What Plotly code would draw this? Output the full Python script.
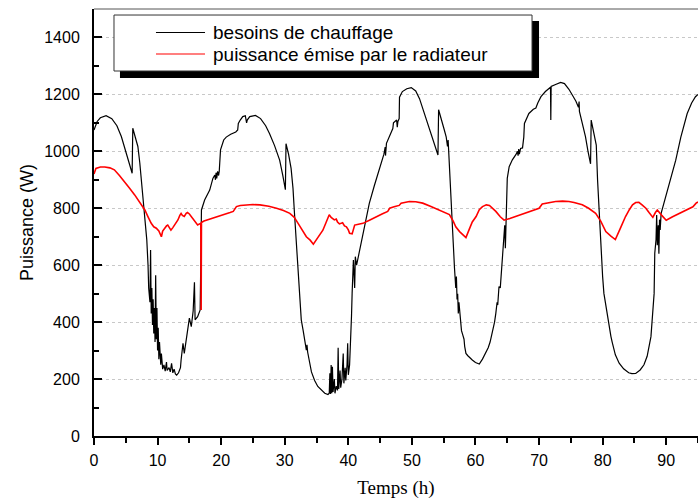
import plotly.graph_objects as go

# Heating demand (besoins de chauffage): time in hours, power in W
besoins_t = [
    0, 0.5, 1.0, 1.9, 2.8, 3.6, 4.3, 5.0, 5.6, 6.0, 6.1, 6.5, 6.9, 7.2, 7.4, 7.7, 7.85, 8.1,
    8.3, 8.5, 8.6, 8.8, 8.9, 9.0, 9.1, 9.2, 9.3, 9.4, 9.5, 9.6, 9.7, 9.8, 9.9, 10.0, 10.1, 10.2,
    10.3, 10.5, 10.6, 10.8, 11.0, 11.2, 11.4, 11.5, 11.8, 12.0, 12.2, 12.4, 12.6, 12.8, 13.0,
    13.3, 13.6, 13.7, 14.0, 14.2, 14.7, 15.0, 15.3, 15.6, 15.8, 15.9, 16.3, 16.7, 16.9, 17.4,
    18.2, 18.7, 19.0, 19.1, 19.2, 19.3, 19.45, 19.6, 19.7, 19.9, 20.4, 20.8, 21.5, 22.3, 22.6,
    22.7, 23.0, 23.4, 23.8, 24.0, 24.1, 24.5, 25.4, 26.2, 27.0, 27.6, 28.4, 29.2, 29.7, 30.1,
    30.2, 30.6, 31.0, 31.3, 31.5, 31.8, 32.1, 32.4, 32.6, 32.9, 33.2, 33.4, 33.5, 33.6, 34.2,
    34.7, 35.2, 35.8, 36.3, 36.8, 37.0, 37.1, 37.2, 37.3, 37.4, 37.5, 37.6, 37.8, 37.9, 38.1,
    38.3, 38.4, 38.5, 38.7, 38.8, 39.0, 39.2, 39.3, 39.5, 39.6, 39.8, 39.9, 40.0, 40.2, 40.35,
    40.5, 40.6, 40.8, 41.0, 41.1, 41.3, 41.8, 42.5, 43.3, 44.1, 44.9, 45.6, 45.8, 45.85, 46.0,
    46.5, 47.0, 47.1, 47.4, 47.6, 47.7, 47.8, 48.0, 48.05, 48.5, 49.2, 49.9, 50.6, 51.2, 51.7,
    52.5, 53.3, 53.8, 54.1, 54.2, 54.7, 55.1, 55.4, 55.6, 55.7, 55.8, 56.0, 56.2, 56.5, 56.7,
    56.9, 57.0, 57.1, 57.2, 57.3, 57.4, 57.6, 57.8, 58.0, 58.2, 58.3, 58.5, 58.8, 59.2, 59.5,
    60.0, 60.6, 61.1, 61.6, 62.0, 62.3, 62.5, 62.7, 63.0, 63.2, 63.4, 63.5, 63.7, 63.9, 64.1,
    64.3, 64.5, 64.6, 64.7, 64.8, 64.9, 65.0, 65.3, 65.8, 66.4, 66.6, 66.7, 66.8, 66.9, 67.1,
    67.4, 67.6, 67.7, 68.4, 69.1, 69.5, 69.8, 70.3, 71.0, 71.6, 71.8, 71.85, 71.9, 72.6, 73.4,
    74.0, 74.7, 75.3, 75.8, 76.2, 76.3, 76.35, 76.8, 77.3, 77.7, 78.1, 78.2, 78.6, 79.0, 79.2,
    79.4, 79.6, 79.8, 80.0, 80.2, 80.6, 81.0, 81.3, 81.5, 82.0, 82.6, 83.3, 84.1, 84.6, 85.2,
    85.9, 86.5, 87.0, 87.6, 88.0, 88.1, 88.2, 88.4, 88.5, 88.6, 88.75, 88.85, 88.95, 89.05,
    89.2, 90.0, 90.8, 91.5, 92.3, 93.3, 94.0, 94.6, 95.0,
]
besoins_w = [
    1075, 1105, 1118, 1125, 1115, 1090, 1052, 1000, 955, 923, 1081, 1050, 1017, 960, 911, 840, 806, 740,
    690, 600, 520, 470, 653, 430, 520, 390, 480, 360, 450, 330, 565, 340, 450, 300, 380, 270,
    330, 250, 290, 235, 250, 228, 260, 230, 240, 225, 255, 222, 235, 218, 214,
    222, 240, 267, 326, 290, 360, 414, 384, 440, 540, 408, 419, 443, 794, 829,
    864, 905, 917, 900, 925, 905, 930, 915, 930, 1005, 1040, 1050, 1060, 1068, 1075,
    1098, 1110, 1122, 1125, 1100, 1110, 1122, 1126, 1115, 1090, 1063, 1020, 969, 915, 865,
    1027, 990, 940, 870, 794, 690, 595, 480, 408, 370, 330, 302, 320, 295, 225,
    195, 174, 160, 150, 146, 150, 220, 148, 249, 150, 243, 155, 200, 150, 175,
    160, 310, 165, 230, 170, 200, 290, 185, 240, 195, 250, 326, 215, 250, 320,
    420, 501, 618, 520, 630, 600, 655, 730, 817, 880, 935, 990, 1015, 985, 1028,
    1055, 1080, 1100, 1105, 1110, 1085, 1105, 1115, 1190, 1210, 1220, 1224, 1212, 1185, 1150,
    1095, 1040, 1005, 987, 1146, 1110, 1075, 1050, 1017, 1040, 1000, 900, 800, 680, 590,
    520, 560, 480, 500, 430, 470, 400, 370, 355, 340, 315, 290, 282, 272, 267,
    258, 253, 270, 290, 310, 330, 350, 360, 400, 431, 470, 460, 525, 520, 580,
    618, 680, 740, 660, 760, 840, 905, 946, 970, 990, 1000, 985, 1008, 990, 1010,
    1012, 1050, 1098, 1133, 1148, 1152, 1170, 1192, 1210, 1222, 1225, 1110, 1228, 1235, 1242,
    1238, 1218, 1195, 1176, 1155, 1175, 1140, 1100, 1052, 1000, 956, 1110, 1065, 1022, 900,
    806, 720, 642, 560, 501, 440, 384, 350, 330, 285, 256, 236, 222, 219, 220,
    232, 250, 280, 349, 450, 501, 642, 690, 776, 670, 740, 640, 760, 724,
    782, 850, 915, 969, 1050, 1133, 1170, 1192, 1200,
]

# Power delivered by the radiator (puissance émise par le radiateur)
radiateur_t = [
    0, 0.3, 1.0, 1.7, 2.5, 3.2, 4.0, 4.8, 5.6, 6.4, 7.2, 8.0, 8.5, 9.0, 9.4, 9.8, 10.2, 10.5,
    10.6, 10.8, 11.1, 11.4, 11.6, 11.9, 12.1, 12.4, 12.7, 13.0, 13.2, 13.5, 13.7, 13.9, 14.2,
    14.5, 14.7, 15.0, 15.5, 15.9, 16.3, 16.6, 16.8, 16.85, 16.9, 17.3, 17.9, 18.6, 19.5, 20.5,
    21.4, 21.9, 22.2, 22.4, 23.0, 24.0, 25.0, 26.1, 27.5, 28.7, 29.8, 30.8, 31.5, 32.1, 32.8,
    33.4, 34.0, 34.5, 35.2, 36.0, 36.5, 37.0, 37.3, 37.6, 37.8, 38.1, 38.3, 38.6, 39.1, 39.4,
    39.7, 40.0, 40.2, 40.6, 41.0, 41.6, 42.3, 43.4, 44.4, 45.3, 46.2, 46.5, 47.2, 48.0, 48.3,
    49.0, 49.6, 50.6, 51.7, 53.0, 54.3, 55.1, 55.9, 56.5, 56.9, 57.5, 58.0, 58.5, 59.0, 59.5,
    60.1, 60.6, 61.1, 61.7, 62.2, 62.7, 63.2, 63.9, 64.5, 65.4, 66.3, 67.1, 67.9, 69.0, 70.0,
    70.5, 71.5, 72.6, 73.7, 74.7, 75.5, 76.3, 76.8, 77.8, 78.9, 79.7, 80.5, 81.3, 82.0, 82.8,
    83.6, 84.2, 84.7, 85.2, 85.7, 86.2, 86.8, 87.3, 87.9, 88.3, 88.6, 89.3, 90.0, 91.0, 92.1,
    93.2, 94.2, 94.7, 95.0,
]
radiateur_w = [
    920, 940, 945, 945, 942, 935, 915, 894, 870, 847, 822, 794, 770, 747, 735, 730, 720, 705,
    700, 720, 730, 738, 741, 730, 723, 732, 741, 752, 759, 775, 782, 775, 771,
    782, 785, 780, 765, 750, 741, 745, 747, 443, 750, 755, 759, 765, 771, 778,
    785, 789, 800, 806, 810, 812, 813, 812, 807, 800, 792, 782, 768, 747, 722,
    700, 688, 674, 697, 723, 750, 777, 768, 762, 759, 762, 752, 745, 749, 738,
    735, 724, 712, 710, 741, 744, 747, 759, 771, 780, 789, 800, 805, 810, 818,
    822, 824, 823, 818, 806, 794, 786, 778, 755, 735, 718, 706, 697, 725, 752,
    771, 795, 806, 812, 810, 800, 789, 770, 758, 764, 771, 778, 785, 792, 800,
    815, 820, 824, 825, 824, 820, 815, 812, 800, 782, 755, 718, 702, 690, 730,
    771, 795, 812, 820, 821, 812, 800, 785, 768, 785, 794, 775, 758, 770, 782,
    794, 805, 818, 822,
]

x_ticks = [0, 10, 20, 30, 40, 50, 60, 70, 80, 90]
y_ticks = [0, 200, 400, 600, 800, 1000, 1200, 1400]

legend_labels = ["besoins de chauffage", "puissance émise par le radiateur"]
legend_colors = ["#000000", "#ff0000"]

fig = go.Figure()
fig.add_trace(go.Scatter(x=besoins_t, y=besoins_w, mode="lines", name=legend_labels[0],
                         line=dict(color=legend_colors[0], width=1.2), showlegend=False))
fig.add_trace(go.Scatter(x=radiateur_t, y=radiateur_w, mode="lines", name=legend_labels[1],
                         line=dict(color=legend_colors[1], width=1.6), showlegend=False))

# Boxed legend with a drop shadow, in paper coordinates
shapes = [
    dict(type="line", xref="paper", yref="paper", x0=0, x1=1, y0=1, y1=1,
         line=dict(color="#555555", width=1), layer="above"),
    dict(type="rect", xref="paper", yref="paper", x0=0.0430, x1=0.7368, y0=0.8384, y1=0.9719,
         fillcolor="#000000", line=dict(width=0), layer="above"),
    dict(type="rect", xref="paper", yref="paper", x0=0.0331, x1=0.7252, y0=0.8548, y1=0.9859,
         fillcolor="#ffffff", line=dict(color="#333333", width=1), layer="above"),
]
legend_y = [0.945, 0.8946]
annotations = []
for label, color, ly in zip(legend_labels, legend_colors, legend_y):
    shapes.append(dict(type="line", xref="paper", yref="paper", x0=0.1026, x1=0.1838,
                       y0=ly, y1=ly, line=dict(color=color, width=1.2), layer="above"))
    annotations.append(dict(xref="paper", yref="paper", x=0.1937, y=ly, text=label,
                            showarrow=False, xanchor="left", yanchor="middle",
                            font=dict(family="Liberation Sans, Arial", size=19, color="#000")))

fig.update_layout(
    width=698, height=502,
    margin=dict(l=94, r=0, t=9, b=66),
    paper_bgcolor="white", plot_bgcolor="white",
    shapes=shapes, annotations=annotations,
    font=dict(family="Liberation Sans, Arial", size=16, color="#000"),
)
fig.update_xaxes(
    range=[0, 95], tickvals=x_ticks, ticks="outside", ticklen=7, tickwidth=1.5,
    tickcolor="#000", showline=True, linecolor="#000", linewidth=2, showgrid=False,
    zeroline=False, minor=dict(dtick=5, ticks="outside", ticklen=5, tickcolor="#000", tickwidth=1.5),
    ticklabelstandoff=2,
    title=dict(text="Temps (h)", font=dict(family="Liberation Serif, Times New Roman", size=19),
               standoff=12),
)
fig.update_yaxes(
    range=[0, 1500], tickvals=y_ticks, ticks="inside", ticklen=8, tickwidth=1.5,
    tickcolor="#000", showline=True, linecolor="#000", linewidth=2, showgrid=True,
    gridcolor="#c8c8c8", griddash="dot", gridwidth=1, zeroline=False,
    minor=dict(dtick=100, ticks="inside", ticklen=5, tickcolor="#000", tickwidth=1.5, showgrid=False),
    ticklabelstandoff=9,
    title=dict(text="Puissance (W)", font=dict(family="Liberation Sans, Arial", size=18),
               standoff=6),
)

fig.write_html("out.html")
